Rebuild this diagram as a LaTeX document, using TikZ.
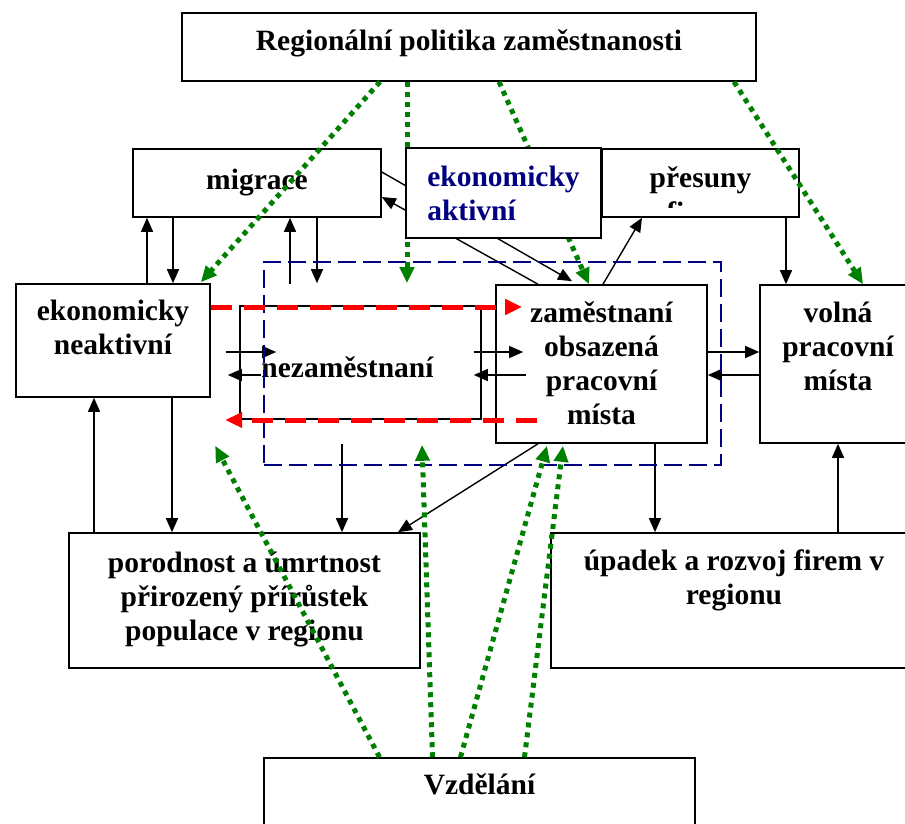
\documentclass[tikz,border=0pt]{standalone}
\usepackage{fontspec}
\setmainfont{Liberation Serif}
\usetikzlibrary{arrows.meta}

\definecolor{navy}{RGB}{0,0,128}
\definecolor{dotgreen}{RGB}{0,128,0}

% text block lifted by #2 from the centre of its box
\newcommand{\boxtxt}[3][c]{\raisebox{\dimexpr#2-7pt\relax}[0pt][0pt]{\begin{tabular}{@{}#1@{}}#3\end{tabular}}}

\begin{document}
\begin{tikzpicture}[x=1pt,y=-1pt]
    % Define styles
    \tikzstyle{box} = [rectangle, draw=black, line width=1.6pt, fill=white, inner sep=0pt, font=\fontsize{29.5}{34}\selectfont\bfseries]
    \tikzstyle{flow} = [-{Triangle[length=14pt,width=12pt]}, line width=1.4pt]
    \tikzstyle{effect} = [dotgreen, line width=5pt, dash pattern=on 5pt off 5pt, -{Triangle[length=16pt,width=14pt]}]
    \tikzstyle{transfer} = [red, line width=5pt, dash pattern=on 21pt off 12pt, -{Triangle[length=17pt,width=15pt]}]
    \tikzstyle{market} = [rectangle, draw=navy, line width=2.5pt, dash pattern=on 18pt off 7pt, inner sep=0pt]

    \useasboundingbox (0,0) rectangle (905,823);
    \clip (0,0) rectangle (905,823);

    % Boxes
    \node[box, minimum width=574pt, minimum height=68pt] (pol) at (469,47) {\boxtxt{4pt}{Regionální politika zaměstnanosti}};
    \node[box, minimum width=248pt, minimum height=68pt] (mig) at (257,183) {\boxtxt{1pt}{migrace}};
    \node[box, minimum width=197pt, minimum height=68pt] (pres) at (700.5,183) {\boxtxt{3pt}{přesuny}};
    \node[box, minimum width=194pt, minimum height=113pt] (neak) at (113,340.5) {\boxtxt{11pt}{ekonomicky\\neaktivní}};
    \node[box, minimum width=241pt, minimum height=113pt] (nezam) at (360.5,362.5) {\boxtxt{-7pt}{nezaměstnaní}\kern26pt};
    \node[box, minimum width=211pt, minimum height=158pt] (zam) at (601.5,364) {\boxtxt{-2pt}{zaměstnaní\\obsazená\\pracovní\\místa}};
    \node[box, minimum width=156pt, minimum height=158pt] (vol) at (838,364) {\boxtxt{15pt}{volná\\pracovní\\místa}};
    \node[box, minimum width=351pt, minimum height=135pt] (por) at (244.5,600.5) {\boxtxt{2pt}{porodnost a úmrtnost\\přirozený přírůstek\\populace v regionu}};
    \node[box, minimum width=366pt, minimum height=135pt] (upad) at (734,600.5) {\boxtxt{21pt}{úpadek a rozvoj firem v\\regionu}};
    \node[box, minimum width=431pt, minimum height=100pt] (vzd) at (479.5,808) {\boxtxt{21pt}{Vzdělání}};

    % second line of přesuny, cut by the box
    \begin{scope}
        \clip (pres.north west) rectangle ([yshift=10pt]pres.south east);
        \node[box, draw=none, fill=none] (presf) at (700.5,215) {\boxtxt{0pt}{firem}};
    \end{scope}

    % Flows between the boxes
    \draw[flow] ([xshift=34pt]neak.north) -- ([xshift=-110pt]mig.south);
    \draw[flow] ([xshift=-84pt]mig.south) -- ([xshift=60pt]neak.north);
    \draw[flow] ([xshift=-70.5pt,yshift=21pt]nezam.north) -- ([xshift=33pt]mig.south);
    \draw[flow] ([xshift=60pt]mig.south) -- ([xshift=-43.5pt,yshift=22pt]nezam.north);
    \draw[flow] ([yshift=11pt]mig.east) -- ([xshift=-29.5pt,yshift=3pt]zam.north);
    \draw[flow] ([xshift=-63.5pt]zam.north) -- ([yshift=-14pt]mig.east);
    \draw[flow] ([xshift=1.5pt]zam.north) -- ([xshift=-58.5pt]pres.south);
    \draw[flow] ([xshift=85.5pt]pres.south) -- ([xshift=-52pt]vol.north);

    \draw[flow] ([xshift=15pt,yshift=-11.5pt]neak.east) -- ([xshift=37pt,yshift=10.5pt]nezam.west);
    \draw[flow] ([xshift=22pt,yshift=-12.5pt]nezam.west) -- ([xshift=17pt,yshift=-34.5pt]neak.east);
    \draw[flow] ([xshift=-8pt,yshift=10.5pt]nezam.east) -- ([xshift=28pt,yshift=12pt]zam.west);
    \draw[flow] ([xshift=31pt,yshift=-11pt]zam.west) -- ([xshift=-8pt,yshift=-12.5pt]nezam.east);
    \draw[flow] ([yshift=12pt]zam.east) -- ([yshift=12pt]vol.west);
    \draw[flow] ([yshift=-11pt]vol.west) -- ([yshift=-11pt]zam.east);

    \draw[flow] ([xshift=59pt]neak.south) -- ([xshift=-72.5pt]por.north);
    \draw[flow] ([xshift=-150.5pt]por.north) -- ([xshift=-19pt]neak.south);
    \draw[flow] ([xshift=-18.5pt,yshift=-24pt]nezam.south) -- ([xshift=97.5pt]por.north);
    \draw[flow] ([xshift=-63.5pt]zam.south) -- ([xshift=153.5pt]por.north);
    \draw[flow] ([xshift=53.5pt]zam.south) -- ([xshift=-79pt]upad.north);
    \draw[flow] ([xshift=104pt]upad.north) -- (vol.south);

    % Labour market
    \node[market, minimum width=457pt, minimum height=203pt] (trh) at (492.5,363.5) {};

    % Effects of policy and education
    \draw[effect] ([xshift=-89pt]pol.south) -- ([xshift=-10pt,yshift=1pt]neak.north east);
    \draw[effect] ([xshift=-62pt]pol.south) -- ([xshift=46.5pt,yshift=22pt]nezam.north);
    \draw[effect] ([xshift=30pt]pol.south) -- ([xshift=-12.5pt]zam.north);
    \draw[effect] ([xshift=265pt]pol.south) -- ([xshift=25pt]vol.north);
    \draw[effect] ([xshift=-100pt]vzd.north) -- ([xshift=-24pt,yshift=-26pt]nezam.south west);
    \draw[effect] ([xshift=-47pt]vzd.north) -- ([xshift=61.5pt,yshift=-25pt]nezam.south);
    \draw[effect] ([xshift=-19pt]vzd.north) -- ([xshift=-54.5pt,yshift=-2pt]zam.south);
    \draw[effect] ([xshift=45pt]vzd.north) -- ([xshift=-38.5pt,yshift=-2pt]zam.south);

    % Active population on top
    \node[box, text=navy, minimum width=195pt, minimum height=90pt] (akt) at (503.5,193) {\boxtxt[l]{-3pt}{ekonomicky\\aktivní}};

    % Moves in and out of work
    \draw[transfer] ([yshift=33.5pt]neak.east) -- ([xshift=27pt,yshift=57pt]zam.west);
    \draw[transfer] ([xshift=42pt,yshift=-56pt]zam.west) -- ([xshift=-14pt,yshift=-57.5pt]nezam.west);

\end{tikzpicture}
\end{document}
